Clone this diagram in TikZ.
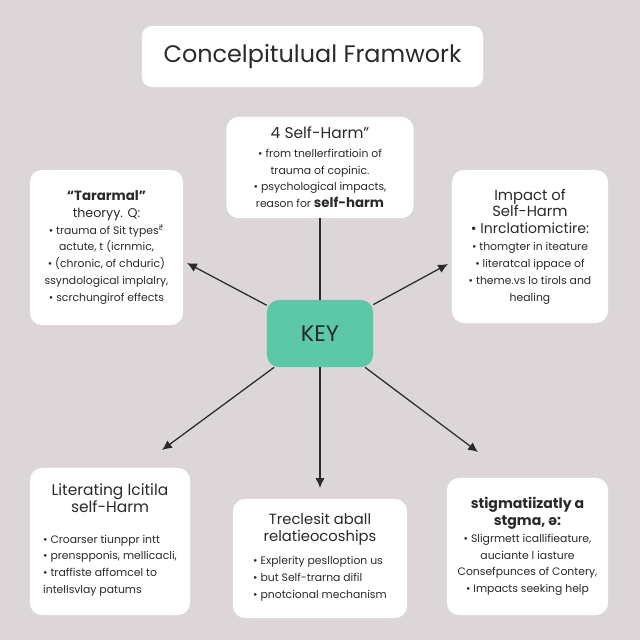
\documentclass[tikz,border=0pt]{standalone}
\usepackage{fontspec}
\setmainfont{Poppins}
\usetikzlibrary{positioning,arrows.meta}
\definecolor{bgc}{HTML}{DCD6D9}
\definecolor{keyc}{HTML}{5CC8A8}
\definecolor{inkc}{HTML}{2A2A2A}
\newcommand{\bodyfs}{\fontsize{7.7}{12}\selectfont}
\newcommand{\headfs}{\fontsize{10.5}{14}\selectfont}
\tikzset{
  card/.style={rounded corners=0.3cm,fill=white,inner sep=0pt,align=center,text=inkc,font=\bodyfs},
  keybox/.style={rounded corners=0.3cm,fill=keyc,inner sep=0pt,text=inkc,font=\fontsize{16}{18}\selectfont},
  link/.style={line width=0.9pt,draw=inkc},
  arr/.style={link,-{Latex[length=7pt,width=6.5pt]}},
}
\begin{document}
\begin{tikzpicture}[x=0.025cm,y=-0.025cm]
  \fill[bgc] (0,0) rectangle (640,640);
  % title
  \node[card,rounded corners=0.25cm,minimum width=8.525cm,minimum height=1.525cm,
    font=\fontsize{17}{22}\selectfont] (title) at (312.5,56.5) {Concelpitulual Framwork};
  % centre
  \node[keybox,minimum width=2.65cm,minimum height=1.675cm] (key) at (320,333.5) {KEY};
  % cards round the key
  \node[card,minimum width=4.675cm,minimum height=2.525cm] (top) at (320,167.5) {%
    {\fontsize{11}{14}\selectfont 4 Self-Harm"}\\[1pt]
    \textbullet\ from tnellerfiratioin of\\
    trauma of copinic.\\
    \textbullet\ psychological impacts,\\
    reason for {\fontsize{9.5}{12}\selectfont\bfseries self-harm}};
  \node[card,minimum width=3.825cm,minimum height=3.875cm] (theory) at (106.5,247.5) {%
    {\fontsize{9.5}{13}\selectfont\bfseries “Tararmal"}\\
    {\fontsize{9}{12}\selectfont theoryy. Q:}\\
    \textbullet\ trauma of Sit types\textsuperscript{₹}\\
    actute, t (icrnmic,\\
    \textbullet\ (chronic, of chduric)\\
    ssyndological implalry,\\
    \textbullet\ scrchungirof effects};
  \node[card,minimum width=3.9cm,minimum height=3.825cm] (impact) at (530,246.5) {%
    {\headfs Impact of}\\
    {\headfs Self-Harm}\\
    {\fontsize{10}{13}\selectfont \textbullet\ Inrclatiomictire:}\\
    \textbullet\ thomgter in iteature\\
    \textbullet\ literatcal ippace of\\
    \textbullet\ theme.vs lo tirols and\\
    healing};
  \node[card,minimum width=4cm,minimum height=3.675cm] (lit) at (110,541.5) {%
    {\fontsize{11}{15}\selectfont Literating lcitila}\\
    {\fontsize{11}{15}\selectfont self-Harm}\\[12pt]
    \begin{tabular}{@{}l@{}}
      \textbullet\ Croarser tiunppr intt\\
      \textbullet\ prenspponis, mellicacli,\\
      \textbullet\ traffiste affomcel to\\
      intellsvlay patums
    \end{tabular}};
  \node[card,minimum width=4.35cm,minimum height=2.975cm] (rel) at (320,558.5) {%
    {\headfs Treclesit aball}\\
    {\headfs relatieocoships}\\[4pt]
    \begin{tabular}{@{}l@{}}
      \textbullet\ Explerity peslloption us\\
      \textbullet\ but Self-trarna difil\\
      \textbullet\ pnotcional mechanism
    \end{tabular}};
  \node[card,minimum width=4.025cm,minimum height=3.425cm] (stigma) at (527.5,546.5) {%
    {\fontsize{10}{12}\selectfont\bfseries stigmatiizatly a}\\
    {\fontsize{10}{12}\selectfont\bfseries stgma, ə:}\\
    \textbullet\ Sligrmett icallifieature,\\
    auciante l iasture\\
    Consefpunces of Contery,\\
    \textbullet\ Impacts seeking help};
  % free ends of the arrows
  \coordinate (tipTL) at (187,263);
  \coordinate (tipTR) at (448,264);
  \coordinate (tipBL) at (162,450);
  \coordinate (tipBR) at (478,452);
  \coordinate (tipB) at (320,488);
  \draw[link] (key) -- (top);
  \foreach \t in {tipTL,tipTR,tipBL,tipBR,tipB}{\draw[arr] (key) -- (\t);}
\end{tikzpicture}
\end{document}
